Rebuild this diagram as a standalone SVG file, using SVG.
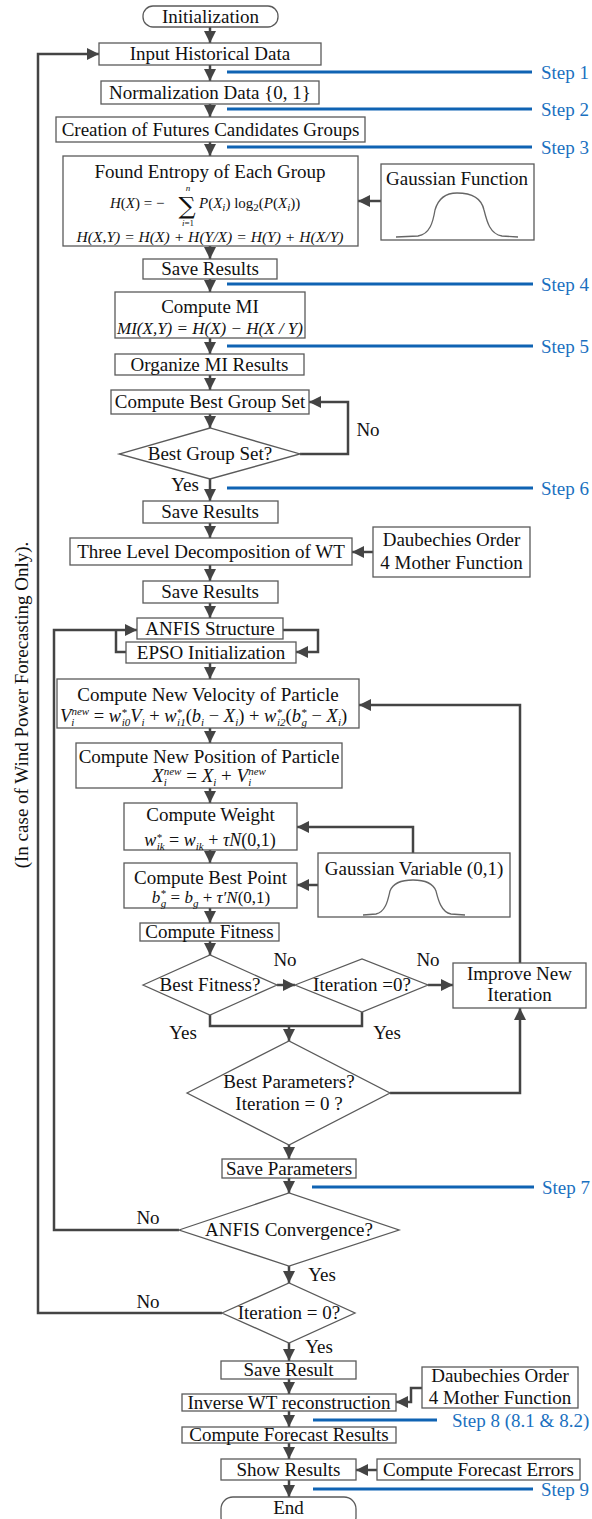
<svg xmlns="http://www.w3.org/2000/svg" width="592" height="1519" viewBox="0 0 592 1519">
<defs>
<marker id="ah" viewBox="0 0 10 10" refX="10" refY="5" markerWidth="12" markerHeight="12" markerUnits="userSpaceOnUse" orient="auto">
<path d="M0,0 L10,5 L0,10 z" fill="#444"/>
</marker>
<style>
.box{fill:#fff;stroke:#5a5a5a;stroke-width:1.3}
.t{font-family:"Liberation Serif","Times New Roman",serif;font-size:19px;fill:#111;text-anchor:middle}
.fm{font-family:"Liberation Serif","Times New Roman",serif;font-style:italic;font-size:15px;fill:#111}
.sm{font-size:11px}
.up{font-style:normal}
.step{font-family:"Liberation Serif","Times New Roman",serif;font-size:19px;fill:#1a70c0}
.sl{stroke:#0f63b3;stroke-width:3;fill:none}
.c{stroke:#444;stroke-width:2.5;fill:none}
.ca{stroke:#444;stroke-width:2.5;fill:none;marker-end:url(#ah)}
.curve{stroke:#666;stroke-width:1.3;fill:none}
</style>
</defs>

<g id="side-note">
<text class="t" transform="translate(28,705) rotate(-90)">(In case of Wind Power Forecasting Only).</text>
</g>

<g id="connectors">
<path class="ca" d="M210,27 V43"/>
<path class="ca" d="M210,65 V81"/>
<path class="ca" d="M210,104 V117"/>
<path class="ca" d="M210,142 V156"/>
<path class="ca" d="M381,201 H358"/>
<path class="ca" d="M210,246 V259"/>
<path class="ca" d="M210,279 V292"/>
<path class="ca" d="M210,338 V354"/>
<path class="ca" d="M210,375 V390"/>
<path class="ca" d="M210,414 V428"/>
<path class="ca" d="M300,454 H348 V402 H309"/>
<path class="ca" d="M210,479 V501"/>
<path class="ca" d="M210,523 V538"/>
<path class="ca" d="M373,552 H352"/>
<path class="ca" d="M210,565 V581"/>
<path class="ca" d="M210,603 V618"/>
<path class="ca" d="M283,630 H318 V652 H296"/>
<path class="c" d="M126,652 H116 V630"/>
<path class="ca" d="M179,1230 H54 V630 H137"/>
<path class="ca" d="M210,663 V679"/>
<path class="ca" d="M210,728 V743"/>
<path class="ca" d="M210,788 V803"/>
<path class="ca" d="M413,853 V827 H297"/>
<path class="ca" d="M210,850 V863"/>
<path class="ca" d="M318,885 H297"/>
<path class="ca" d="M210,908 V923"/>
<path class="ca" d="M210,941 V955"/>
<path class="ca" d="M277,985 H295"/>
<path class="ca" d="M428,985 H453"/>
<path class="ca" d="M520,963 V705 H359"/>
<path class="c" d="M210,1015 V1026 H362 V1012"/>
<path class="ca" d="M289,1026 V1041"/>
<path class="ca" d="M390,1093 H520 V1008"/>
<path class="ca" d="M289,1145 V1159"/>
<path class="ca" d="M289,1178 V1193"/>
<path class="ca" d="M289,1266 V1283"/>
<path class="ca" d="M222,1313 H38 V54 H99"/>
<path class="ca" d="M289,1343 V1361"/>
<path class="ca" d="M289,1379 V1394"/>
<path class="ca" d="M422,1388 H411 V1402 H396"/>
<path class="ca" d="M289,1411 V1427"/>
<path class="ca" d="M289,1443 V1459"/>
<path class="ca" d="M377,1470 H356"/>
<path class="ca" d="M289,1480 V1497"/>
</g>

<g id="connector-labels">
<text class="t" x="368" y="436">No</text>
<text class="t" x="185" y="491">Yes</text>
<text class="t" x="285" y="966">No</text>
<text class="t" x="428" y="966">No</text>
<text class="t" x="183" y="1039">Yes</text>
<text class="t" x="387" y="1039">Yes</text>
<text class="t" x="148" y="1224">No</text>
<text class="t" x="322" y="1281">Yes</text>
<text class="t" x="148" y="1308">No</text>
<text class="t" x="319" y="1353">Yes</text>
</g>

<g id="steps">
<path class="sl" d="M227,72 H532"/><text class="step" x="541" y="79">Step 1</text>
<path class="sl" d="M227,109 H532"/><text class="step" x="541" y="116">Step 2</text>
<path class="sl" d="M227,147 H532"/><text class="step" x="541" y="154">Step 3</text>
<path class="sl" d="M227,284 H533"/><text class="step" x="541" y="291">Step 4</text>
<path class="sl" d="M227,346 H533"/><text class="step" x="541" y="353">Step 5</text>
<path class="sl" d="M227,488 H533"/><text class="step" x="541" y="495">Step 6</text>
<path class="sl" d="M312,1187 H534"/><text class="step" x="542" y="1194">Step 7</text>
<path class="sl" d="M313,1420 H437"/><text class="step" x="452" y="1427">Step 8 (8.1 &amp; 8.2)</text>
<path class="sl" d="M313,1489 H533"/><text class="step" x="541" y="1496">Step 9</text>
</g>

<g id="n-init"><rect class="box" x="143" y="6" width="135" height="21" rx="10"/><text class="t" x="210.5" y="23">Initialization</text></g>
<g id="n-input"><rect class="box" x="99" y="43" width="222" height="22"/><text class="t" x="210" y="60">Input Historical Data</text></g>
<g id="n-norm"><rect class="box" x="101" y="81" width="218" height="23"/><text class="t" x="210" y="99">Normalization Data {0, 1}</text></g>
<g id="n-create"><rect class="box" x="56" y="117" width="309" height="25"/><text class="t" x="210.5" y="136">Creation of Futures Candidates Groups</text></g>
<g id="n-entropy"><rect class="box" x="63" y="156" width="295" height="90"/>
<text class="t" x="210" y="178">Found Entropy of Each Group</text>
<text class="fm" x="110" y="208">H<tspan class="up">(</tspan>X<tspan class="up">) = −</tspan></text>
<text x="187" y="214" text-anchor="middle" style="font-family:'DejaVu Serif',serif;font-size:24px;fill:#111">∑</text>
<text class="fm" x="188" y="191" text-anchor="middle" style="font-size:9px">n</text>
<text class="fm" x="188" y="226" text-anchor="middle" style="font-size:9px">i<tspan class="up">=1</tspan></text>
<text class="fm" x="199" y="208">P<tspan class="up">(</tspan>X<tspan class="sm" dy="3">i</tspan><tspan class="up" dy="-3">) log</tspan><tspan class="sm up" dy="3">2</tspan><tspan class="up" dy="-3">(</tspan>P<tspan class="up">(</tspan>X<tspan class="sm" dy="3">i</tspan><tspan class="up" dy="-3">))</tspan></text>
<text class="fm" x="210" y="242" text-anchor="middle" textLength="267" lengthAdjust="spacingAndGlyphs" style="font-size:15.5px">H(X,Y) = H(X) + H(Y/X) = H(Y) + H(X/Y)</text>
</g>
<g id="n-gauss"><rect class="box" x="381" y="164" width="153" height="76"/><text class="t" x="457" y="185">Gaussian Function</text>
<path class="curve" d="M396,237 L418,236 C430,234 433,222 435,210 C439,196 448,193 457,193 C468,193 481,196 484,210 C487,222 490,234 502,236 L518,237"/></g>
<g id="n-save1"><rect class="box" x="143" y="259" width="134" height="20"/><text class="t" x="210" y="275">Save Results</text></g>
<g id="n-mi"><rect class="box" x="115" y="292" width="190" height="46"/><text class="t" x="210" y="313">Compute MI</text>
<text class="fm" x="210" y="334" text-anchor="middle" textLength="186" lengthAdjust="spacingAndGlyphs" style="font-size:17px">MI(X,Y) = H(X) − H(X / Y)</text></g>
<g id="n-org"><rect class="box" x="115" y="354" width="189" height="21"/><text class="t" x="209.5" y="371">Organize MI Results</text></g>
<g id="n-cbgs"><rect class="box" x="111" y="390" width="198" height="24"/><text class="t" x="210" y="408">Compute Best Group Set</text></g>
<g id="n-dbgs"><polygon class="box" points="119,454 210,428 300,454 210,479"/><text class="t" x="210" y="460">Best Group Set?</text></g>
<g id="n-save2"><rect class="box" x="143" y="501" width="135" height="22"/><text class="t" x="210" y="518">Save Results</text></g>
<g id="n-three"><rect class="box" x="70" y="538" width="282" height="27"/><text class="t" x="211" y="558">Three Level Decomposition of WT</text></g>
<g id="n-daub1"><rect class="box" x="373" y="527" width="157" height="50"/><text class="t" x="451.5" y="546">Daubechies Order</text><text class="t" x="451.5" y="569">4 Mother Function</text></g>
<g id="n-save3"><rect class="box" x="143" y="581" width="135" height="22"/><text class="t" x="210" y="598">Save Results</text></g>
<g id="n-anfis"><rect class="box" x="137" y="618" width="146" height="21"/><text class="t" x="210" y="635">ANFIS Structure</text></g>
<g id="n-epso"><rect class="box" x="126" y="642" width="170" height="21"/><text class="t" x="211" y="659">EPSO Initialization</text></g>
<g id="n-vel"><rect class="box" x="57" y="679" width="302" height="49"/><text class="t" x="208" y="701">Compute New Velocity of Particle</text>
<text class="fm" x="60" y="722" style="font-size:18.5px">V<tspan class="sm" dy="4">i</tspan><tspan class="sm" dx="-3" dy="-11">new</tspan><tspan class="up" dy="7"> = </tspan>w<tspan class="sm" dy="-6">*</tspan><tspan class="sm" dx="-5" dy="10">i0</tspan><tspan dy="-4">V</tspan><tspan class="sm" dy="4">i</tspan><tspan class="up" dy="-4"> + </tspan>w<tspan class="sm" dy="-6">*</tspan><tspan class="sm" dx="-5" dy="10">i1</tspan><tspan class="up" dy="-4">(</tspan>b<tspan class="sm" dy="4">i</tspan><tspan class="up" dy="-4"> − </tspan>X<tspan class="sm" dy="4">i</tspan><tspan class="up" dy="-4">) + </tspan>w<tspan class="sm" dy="-6">*</tspan><tspan class="sm" dx="-5" dy="10">i2</tspan><tspan class="up" dy="-4">(</tspan>b<tspan class="sm" dy="-6">*</tspan><tspan class="sm" dx="-5" dy="10">g</tspan><tspan class="up" dy="-4"> − </tspan>X<tspan class="sm" dy="4">i</tspan><tspan class="up" dy="-4">)</tspan></text></g>
<g id="n-pos"><rect class="box" x="76" y="743" width="266" height="45"/><text class="t" x="209" y="763">Compute New Position of Particle</text>
<text class="fm" x="209" y="782" text-anchor="middle" style="font-size:19px">X<tspan class="sm" dy="4">i</tspan><tspan class="sm" dx="-3" dy="-11">new</tspan><tspan class="up" dy="7"> = </tspan>X<tspan class="sm" dy="4">i</tspan><tspan class="up" dy="-4"> + </tspan>V<tspan class="sm" dy="4">i</tspan><tspan class="sm" dx="-3" dy="-11">new</tspan></text></g>
<g id="n-weight"><rect class="box" x="124" y="803" width="173" height="47"/><text class="t" x="210.5" y="821">Compute Weight</text>
<text class="fm" x="210" y="846" text-anchor="middle" style="font-size:18px">w<tspan style="font-size:11px" dy="-5">*</tspan><tspan style="font-size:11px" dx="-5" dy="9">ik</tspan><tspan class="up" dy="-4"> = </tspan>w<tspan style="font-size:11px" dy="4">ik</tspan><tspan class="up" dy="-4"> + </tspan>τN<tspan class="up">(0,1)</tspan></text></g>
<g id="n-bestpt"><rect class="box" x="124" y="863" width="173" height="45"/><text class="t" x="210.5" y="884">Compute Best Point</text>
<text class="fm" x="211" y="903" text-anchor="middle" style="font-size:17px">b<tspan class="sm" dy="-6">*</tspan><tspan class="sm" dx="-5" dy="10">g</tspan><tspan class="up" dy="-4"> = </tspan>b<tspan class="sm" dy="4">g</tspan><tspan class="up" dy="-4"> + </tspan>τ′N<tspan class="up">(0,1)</tspan></text></g>
<g id="n-gvar"><rect class="box" x="318" y="853" width="192" height="64"/><text class="t" x="414" y="875">Gaussian Variable (0,1)</text>
<path class="curve" d="M363,915 L376,914 C386,912 388,899 390,891 C393,883 402,880 413,880 C424,880 433,883 436,891 C438,899 441,912 451,914 L465,915"/></g>
<g id="n-fit"><rect class="box" x="140" y="923" width="139" height="18"/><text class="t" x="209.5" y="938">Compute Fitness</text></g>
<g id="n-dfit"><polygon class="box" points="143,985 210,955 277,985 210,1015"/><text class="t" x="210" y="991">Best Fitness?</text></g>
<g id="n-diter1"><polygon class="box" points="295,985 362,959 428,985 362,1012"/><text class="t" x="362" y="991">Iteration =0?</text></g>
<g id="n-improve"><rect class="box" x="453" y="963" width="133" height="45"/><text class="t" x="519.5" y="980">Improve New</text><text class="t" x="519.5" y="1001">Iteration</text></g>
<g id="n-dparam"><polygon class="box" points="187,1093 289,1041 390,1093 289,1145"/><text class="t" x="289" y="1088">Best Parameters?</text><text class="t" x="289" y="1110">Iteration = 0 ?</text></g>
<g id="n-savep"><rect class="box" x="222" y="1159" width="134" height="19"/><text class="t" x="289" y="1175">Save Parameters</text></g>
<g id="n-dconv"><polygon class="box" points="179,1230 289,1193 399,1230 289,1266"/><text class="t" x="289" y="1236">ANFIS Convergence?</text></g>
<g id="n-diter2"><polygon class="box" points="222,1313 289,1283 355,1313 289,1343"/><text class="t" x="289" y="1319">Iteration = 0?</text></g>
<g id="n-saver"><rect class="box" x="221" y="1361" width="135" height="18"/><text class="t" x="288.5" y="1376">Save Result</text></g>
<g id="n-inv"><rect class="box" x="182" y="1394" width="214" height="17"/><text class="t" x="289" y="1409">Inverse WT reconstruction</text></g>
<g id="n-daub2"><rect class="box" x="422" y="1367" width="156" height="41"/><text class="t" x="500" y="1382">Daubechies Order</text><text class="t" x="500" y="1404">4 Mother Function</text></g>
<g id="n-cfr"><rect class="box" x="182" y="1427" width="214" height="16"/><text class="t" x="289" y="1441">Compute Forecast Results</text></g>
<g id="n-show"><rect class="box" x="221" y="1459" width="135" height="21"/><text class="t" x="288.5" y="1476">Show Results</text></g>
<g id="n-cfe"><rect class="box" x="377" y="1459" width="203" height="21"/><text class="t" x="478.5" y="1476">Compute Forecast Errors</text></g>
<g id="n-end"><rect class="box" x="221" y="1497" width="135" height="32" rx="12"/><text class="t" x="288.5" y="1514">End</text></g>
</svg>
